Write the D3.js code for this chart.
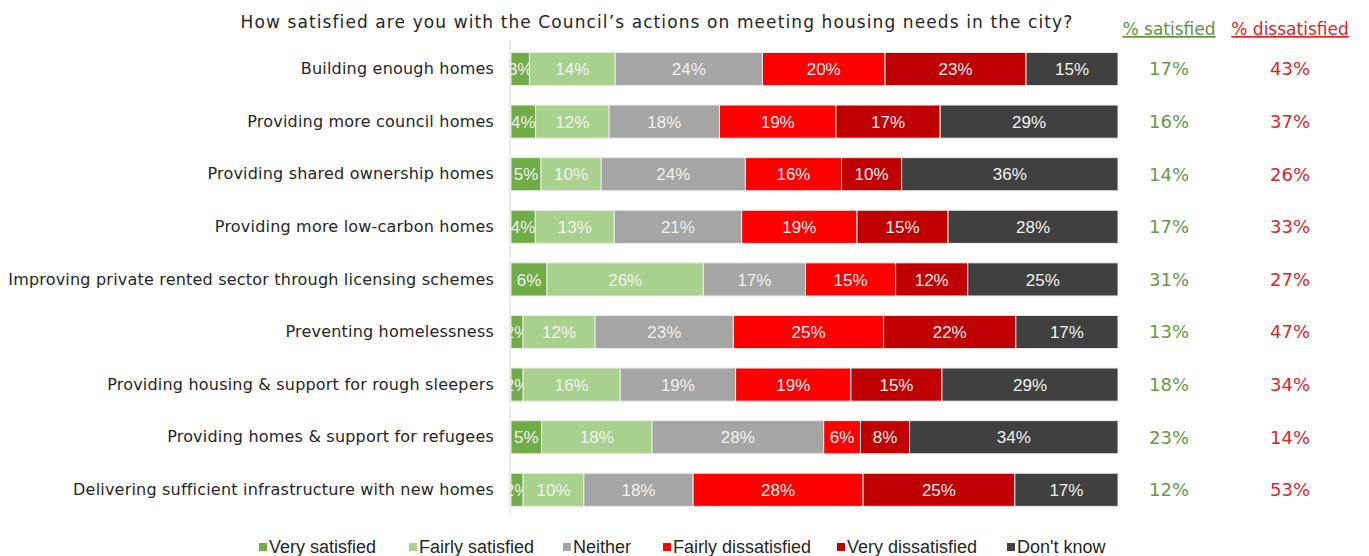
<!DOCTYPE html>
<html>
<head>
<meta charset="utf-8">
<script src="https://cdn.jsdelivr.net/npm/d3@7"></script>
<style>
  html, body { margin: 0; padding: 0; background: #fff; }
  svg { display: block; }
</style>
</head>
<body>
<svg id="chart" width="1369" height="556"></svg>
<script>
// Survey items, top to bottom
const categories = [
  "Building enough homes",
  "Providing more council homes",
  "Providing shared ownership homes",
  "Providing more low-carbon homes",
  "Improving private rented sector through licensing schemes",
  "Preventing homelessness",
  "Providing housing & support for rough sleepers",
  "Providing homes & support for refugees",
  "Delivering sufficient infrastructure with new homes"
];

const responses = ["Very satisfied", "Fairly satisfied", "Neither", "Fairly dissatisfied", "Very dissatisfied", "Don't know"];

// Percentages per response, one entry per item
const verySatisfied      = [3, 4, 5, 4, 6, 2, 2, 5, 2];
const fairlySatisfied    = [14, 12, 10, 13, 26, 12, 16, 18, 10];
const neither            = [24, 18, 24, 21, 17, 23, 19, 28, 18];
const fairlyDissatisfied = [20, 19, 16, 19, 15, 25, 19, 6, 28];
const veryDissatisfied   = [23, 17, 10, 15, 12, 22, 15, 8, 25];
const dontKnow           = [15, 29, 36, 28, 25, 17, 29, 34, 17];

// Net totals shown at the right
const pctSatisfied    = [17, 16, 14, 17, 31, 13, 18, 23, 12];
const pctDissatisfied = [43, 37, 26, 33, 27, 47, 34, 14, 53];

const colors = ["#70AD47", "#A9D18E", "#A5A5A5", "#FF0000", "#C00000", "#404040"];

const title = "How satisfied are you with the Council\u2019s actions on meeting housing needs in the city?";

const seriesValues = [verySatisfied, fairlySatisfied, neither, fairlyDissatisfied, veryDissatisfied, dontKnow];

// Build rows and normalise each to a 100% stack
const rows = categories.map((c, i) => {
  const r = { category: c };
  responses.forEach((k, j) => r[k] = seriesValues[j][i]);
  r.total = d3.sum(seriesValues, s => s[i]);
  return r;
});

const stack = d3.stack()
  .keys(responses)
  .value((d, k) => d[k] / d.total);
const layers = stack(rows);

const svg = d3.select("#chart");
const W = 1369;
const plotLeft = 511, plotRight = 1118;
const plotTop = 42.7, plotBottom = 516.1;

const x = d3.scaleLinear().domain([0, 1]).range([plotLeft, plotRight]);
const y = d3.scaleBand().domain(categories).range([plotTop, plotBottom]).paddingInner(0.37).paddingOuter(0.185);

const labelFont = "'Century Gothic', 'URW Gothic', 'DejaVu Sans', sans-serif";
const narrowFont = "'Tw Cen MT', 'Liberation Sans Narrow', 'Arial Narrow', sans-serif";

// Title
svg.append("text")
  .attr("x", 657).attr("y", 28)
  .attr("text-anchor", "middle")
  .attr("font-family", labelFont)
  .attr("font-size", 17)
  .attr("letter-spacing", 1.1)
  .attr("fill", "#262626")
  .text(title);

// Bars
const g = svg.append("g");
const layerG = g.selectAll("g.layer").data(layers).join("g")
  .attr("class", "layer")
  .attr("fill", (d, i) => colors[i]);

layerG.selectAll("rect").data(d => d.map(v => ({ v, key: d.key }))).join("rect")
  .attr("x", d => x(d.v[0]))
  .attr("y", d => y(d.v.data.category))
  .attr("width", d => x(d.v[1]) - x(d.v[0]))
  .attr("height", y.bandwidth())
  .attr("stroke", "#ececec")
  .attr("stroke-width", 1);

// Segment value labels
layerG.selectAll("text").data(d => d.map(v => ({ v, key: d.key }))).join("text")
  .attr("x", d => (x(d.v[0]) + x(d.v[1])) / 2)
  .attr("y", d => y(d.v.data.category) + y.bandwidth() / 2)
  .attr("dy", "0.36em")
  .attr("text-anchor", "middle")
  .attr("font-family", narrowFont)
  .attr("font-size", 17)
  .attr("fill", "#F2F2F2")
  .text(d => d.v.data[d.key] + "%");

// Category axis
const yAxis = d3.axisLeft(y).tickSize(0).tickPadding(16);
const axG = svg.append("g").attr("transform", `translate(${plotLeft - 1},0)`).call(yAxis);
axG.select(".domain").attr("stroke", "#d9d9d9").attr("d", `M0,40V515`);
axG.selectAll(".tick text")
  .attr("font-family", labelFont)
  .attr("font-size", 16)
  .attr("letter-spacing", 0.2)
  .attr("fill", "#262626");

// Net columns
const colSat = 1169, colDis = 1290;
const hdr = svg.append("g").attr("font-family", labelFont).attr("font-size", 17).attr("text-anchor", "middle");
[[colSat, "% satisfied", "#5E9441"], [colDis, "% dissatisfied", "#D9262B"]].forEach(([cx, t, c]) => {
  hdr.append("text").attr("x", cx).attr("y", 35).attr("fill", c)
    .attr("text-decoration", "underline").text(t);
});

const nets = svg.append("g").attr("font-family", labelFont).attr("font-size", 18).attr("text-anchor", "middle");
nets.selectAll("text.sat").data(categories).join("text")
  .attr("class", "sat")
  .attr("x", colSat)
  .attr("y", d => y(d) + y.bandwidth() / 2)
  .attr("dy", "0.36em")
  .attr("fill", "#649A45")
  .text((d, i) => pctSatisfied[i] + "%");
nets.selectAll("text.dis").data(categories).join("text")
  .attr("class", "dis")
  .attr("x", colDis)
  .attr("y", d => y(d) + y.bandwidth() / 2)
  .attr("dy", "0.36em")
  .attr("fill", "#D9262B")
  .text((d, i) => pctDissatisfied[i] + "%");

// Legend
const legendX = [259, 409, 563, 663, 837, 1007];
const leg = svg.append("g");
responses.forEach((r, i) => {
  leg.append("rect").attr("x", legendX[i]).attr("y", 543).attr("width", 8).attr("height", 8).attr("fill", colors[i]);
  leg.append("text").attr("x", legendX[i] + 10).attr("y", 553)
    .attr("font-family", narrowFont).attr("font-size", 18).attr("fill", "#262626")
    .text(r);
});
</script>
</body>
</html>
